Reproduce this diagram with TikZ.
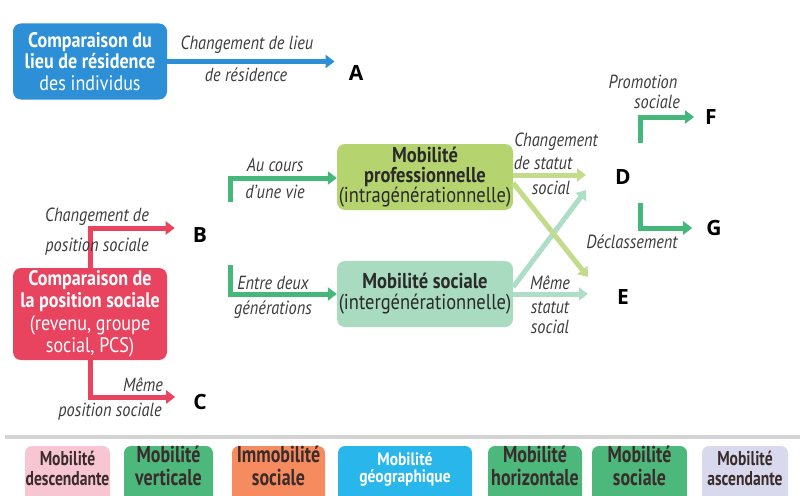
\documentclass[tikz,border=0pt]{standalone}
\usepackage{fontspec}
\setmainfont{PT Sans}[FakeStretch=0.86]
\newfontfamily\keyfont{PT Sans}[FakeStretch=0.78]
\newfontfamily\letterfont{Open Sans}
\usetikzlibrary{arrows.meta,calc}

\definecolor{geoblue}{HTML}{2D8FD5}
\definecolor{posred}{HTML}{E8435F}
\definecolor{flowgreen}{HTML}{45B77A}
\definecolor{profbox}{HTML}{B5D46F}
\definecolor{socbox}{HTML}{A8DBC0}
\definecolor{proflink}{HTML}{C3DC8C}
\definecolor{soclink}{HTML}{AEDEC7}
\definecolor{labelgray}{HTML}{3C3C3C}
\definecolor{boxtext}{HTML}{2A2A2A}
\definecolor{rule}{HTML}{D3D3D3}
\definecolor{keypink}{HTML}{F8C6D3}
\definecolor{keygreen}{HTML}{4DB87B}
\definecolor{keyorange}{HTML}{F58B5E}
\definecolor{keyblue}{HTML}{28B6EB}
\definecolor{keylilac}{HTML}{D9D9EE}
\definecolor{keytext}{HTML}{3A2C2C}

\newcommand\setfs[2]{\fontsize{#1}{#2}\selectfont}

\tikzset{
  mainbox/.style={rounded corners=8pt, align=center, inner sep=0pt, text=white},
  midbox/.style={rounded corners=8pt, align=center, inner sep=0pt, text=boxtext,
    minimum width=176pt, minimum height=66pt, font=\setfs{21.5}{20}},
  lbl/.style={inner sep=0pt, text=labelgray, font=\itshape\setfs{19}{19}},
  letter/.style={inner sep=0pt, text=black, font=\letterfont\bfseries\setfs{21}{21}},
  tip/.style={-{Triangle[width=13pt,length=9pt]}},
  bluearrow/.style={tip, draw=geoblue, line width=5pt},
  redarrow/.style={tip, draw=posred, line width=5pt},
  greenarrow/.style={tip, draw=flowgreen, line width=5pt},
  proflinkarrow/.style={tip, draw=proflink, line width=5pt},
  soclinkarrow/.style={tip, draw=soclink, line width=5pt},
  keytile/.style={rounded corners=7pt},
  keytext/.style={align=center, inner sep=0pt, text=keytext, text depth=0pt},
  keysmall/.style={keytext, font=\keyfont\bfseries\setfs{20}{20}},
  keylarge/.style={keytext, font=\keyfont\bfseries\setfs{23}{23}},
}

\begin{document}
\begin{tikzpicture}[x=1pt,y=-1pt]
\useasboundingbox (0,0) rectangle (800,495);
\clip (0,0) rectangle (800,495);
\fill[white] (0,0) rectangle (800,495);

% --- boxes
\node[mainbox, fill=geoblue, minimum width=154pt, minimum height=76pt, font=\setfs{21}{21.5}]
  (geo) at (90,61.5) {\textbf{Comparaison du}\\\textbf{lieu de résidence}\\des individus};
\node[mainbox, fill=posred, minimum width=154pt, minimum height=92pt, font=\setfs{21}{22.5}]
  (pos) at (90,314) {\textbf{Comparaison de}\\\textbf{la position sociale}\\(revenu, groupe\\social, PCS)};
\node[midbox, fill=profbox] (prof) at (425,177)
  {\textbf{Mobilité}\\\textbf{professionnelle}\\(intragénérationnelle)};
\node[midbox, fill=socbox, font=\setfs{21.5}{21}] (soc) at (425,294)
  {\textbf{Mobilité sociale}\\(intergénérationnelle)};

% --- outcome letters
\node[letter] (A) at (356,73) {A};
\node[letter] (B) at (200,235) {B};
\node[letter] (C) at (200,402) {C};
\node[letter] (D) at (623,177) {D};
\node[letter] (E) at (623,297) {E};
\node[letter] (F) at (711,117) {F};
\node[letter] (G) at (714,228) {G};

% --- free ends of the elbow arrows
\coordinate (bup) at (230,202);
\coordinate (bdown) at (230,265);
\coordinate (dup) at (640,143);
\coordinate (ddown) at (640,203);

% --- connectors
\draw[bluearrow, shorten >=14pt] (geo.east) -- (geo.east -| A.west);
\draw[redarrow, shorten >=18pt] (pos.north) |- ([yshift=7pt]B.west);
\draw[redarrow, shorten >=18pt] (pos.south) |- ([yshift=5pt]C.west);
\draw[greenarrow] (bup) |- ([yshift=-1pt]prof.west);
\draw[greenarrow] (bdown) |- (soc.west);
\draw[soclinkarrow] ([yshift=7pt]soc.east) -- ([xshift=-29pt,yshift=-13pt]D.west);
\draw[soclinkarrow, shorten >=29pt] (soc.east) -- (soc.east -| E.west);
\draw[proflinkarrow, shorten >=29pt] ([yshift=2pt]prof.east) -- ([yshift=2pt]prof.east -| D.west);
\draw[proflinkarrow] ([yshift=-6pt]prof.east) -- ([xshift=-29pt,yshift=20pt]E.west);
\draw[greenarrow, shorten >=11pt] (dup) |- (F.west);
\draw[greenarrow, shorten >=14pt] (ddown) |- (G.west);

% --- connector labels
\node[lbl] (lgeo1) at (247,45) {Changement de lieu};
\node[lbl] (lgeo2) at (246,75) {de résidence};
\node[lbl] (lb1) at (97,217) {Changement de};
\node[lbl] (lb2) at (97,247) {position sociale};
\node[lbl] (lc1) at (143,385) {Même};
\node[lbl] (lc2) at (110,412) {position sociale};
\node[lbl] (lp1) at (275,165) {Au cours};
\node[lbl] (lp2) at (275,192) {d’une vie};
\node[lbl] (ls1) at (273,283) {Entre deux};
\node[lbl] (ls2) at (273,310) {générations};
\node[lbl] (ld1) at (556,142) {Changement};
\node[lbl] (ld2) at (543,163) {de statut};
\node[lbl] (ld3) at (551,188) {social};
\node[lbl] (le1) at (550,283) {Même};
\node[lbl] (le2) at (550,308) {statut};
\node[lbl] (le3) at (550,327) {social};
\node[lbl] (lf1) at (643,82) {Promotion};
\node[lbl] (lf2) at (657,102) {sociale};
\node[lbl] (lg1) at (632,242) {Déclassement};

% --- key strip: tiles run past the lower edge
\draw[rule, line width=4pt] (5,437) -- (800,437);
\fill[keytile, keypink]   (25,446)  rectangle (110,510);
\fill[keytile, keygreen]  (124,446) rectangle (213,510);
\fill[keytile, keyorange] (232,446) rectangle (325,510);
\fill[keytile, keyblue]   (338,446) rectangle (472,510);
\fill[keytile, keygreen]  (488,446) rectangle (582,510);
\fill[keytile, keygreen]  (592,446) rectangle (687,510);
\fill[keytile, keylilac]  (702,446) rectangle (788,510);

\node[keysmall] (k1) at (67.5,468) {Mobilité\\descendante};
\node[keylarge] (k2) at (168.5,466) {Mobilité\\verticale};
\node[keylarge] (k3) at (278.5,466) {Immobilité\\sociale};
\node[keytext, text=white, text depth=4pt, font=\bfseries\setfs{18}{17}]
  (k4) at (405,469.5) {Mobilité\\géographique};
\node[keylarge] (k5) at (535,466) {Mobilité\\horizontale};
\node[keylarge] (k6) at (639.5,466) {Mobilité\\sociale};
\node[keysmall] (k7) at (745,468) {Mobilité\\ascendante};
\end{tikzpicture}
\end{document}
